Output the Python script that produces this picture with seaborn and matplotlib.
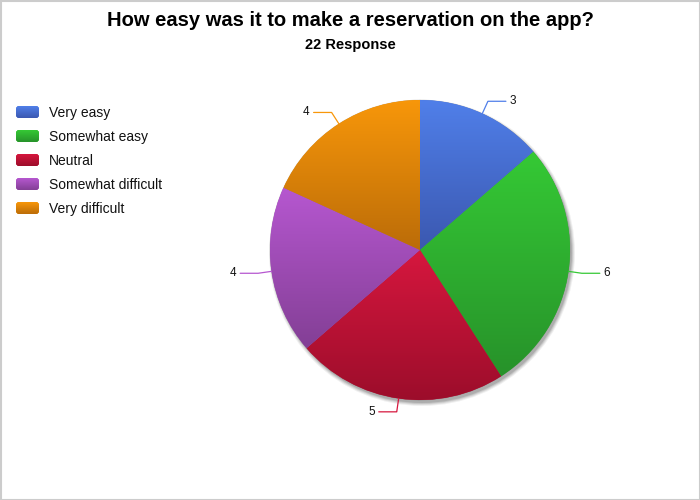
"""Pie chart of reservation difficulty survey responses."""

import numpy as np
import matplotlib
matplotlib.use("Agg")
import matplotlib.pyplot as plt
import seaborn as sns
from matplotlib.colors import LinearSegmentedColormap
from matplotlib.patches import Circle, FancyBboxPatch, Rectangle

CATEGORIES = ["Very easy", "Somewhat easy", "Neutral", "Somewhat difficult", "Very difficult"]
COUNTS = [3, 6, 5, 4, 4]
TOP_COLORS = ["#507fe9", "#35c935", "#d6173e", "#b657d0", "#f8970a"]
BOTTOM_COLORS = ["#3b58b0", "#27922a", "#9c0d2b", "#833f95", "#bb6c08"]
TITLE = "How easy was it to make a reservation on the app?"
SUBTITLE = f"{sum(COUNTS)} Response"

CENTER = (420, 250)
RADIUS = 150


def _gradient_fill(ax, patch, top, bottom, extent):
    """Fill a patch with a vertical gradient clipped to its outline."""
    cmap = LinearSegmentedColormap.from_list("g", [bottom, top])
    grad = np.linspace(0, 1, 256).reshape(-1, 1)
    im = ax.imshow(grad, cmap=cmap, origin="lower", extent=extent, aspect="auto",
                   interpolation="bicubic", zorder=patch.get_zorder() + 0.1)
    im.set_clip_path(patch)


def main() -> None:
    sns.set_theme(style="white")
    plt.rcParams["font.family"] = ["Liberation Sans", "DejaVu Sans"]
    plt.rcParams["text.color"] = "black"

    fig = plt.figure(figsize=(7, 5), dpi=100)
    ax = fig.add_axes([0, 0, 1, 1])

    # Soft drop shadow under the pie.
    for k, a in enumerate([0.06, 0.08, 0.1, 0.12]):
        ax.add_patch(Circle((CENTER[0] + 2, CENTER[1] - 3), RADIUS + 3 - k, color="black",
                            alpha=a, lw=0, zorder=1))

    wedges, _ = ax.pie(COUNTS, colors=TOP_COLORS, startangle=90, counterclock=False,
                       center=CENTER, radius=RADIUS, frame=True,
                       wedgeprops=dict(linewidth=0.6, edgecolor=(0, 0, 0, 0.15), zorder=2))

    for wedge, top, bottom in zip(wedges, TOP_COLORS, BOTTOM_COLORS):
        ext = wedge.get_path().get_extents()
        _gradient_fill(ax, wedge, top, bottom, (ext.x0, ext.x1, ext.y0, ext.y1))

        # Leader line with the count.
        mid = np.deg2rad((wedge.theta1 + wedge.theta2) / 2)
        cx, cy = CENTER
        p0 = (cx + RADIUS * np.cos(mid), cy + RADIUS * np.sin(mid))
        p1 = (cx + RADIUS * 1.09 * np.cos(mid), cy + RADIUS * 1.09 * np.sin(mid))
        side = 1 if np.cos(mid) > 0 else -1
        p2 = (p1[0] + side * 18, p1[1])
        ax.plot([p0[0], p1[0], p2[0]], [p0[1], p1[1], p2[1]], color=top, lw=0.9, zorder=4)

    for wedge, count in zip(wedges, COUNTS):
        mid = np.deg2rad((wedge.theta1 + wedge.theta2) / 2)
        side = 1 if np.cos(mid) > 0 else -1
        x = CENTER[0] + RADIUS * 1.09 * np.cos(mid) + side * 22
        y = CENTER[1] + RADIUS * 1.09 * np.sin(mid)
        ax.text(x, y, str(count), ha="left" if side > 0 else "right", va="center",
                fontsize=8.5, color="#111111", zorder=5)

    # Legend with rounded gradient swatches.
    for i, (label, top, bottom) in enumerate(zip(CATEGORIES, TOP_COLORS, BOTTOM_COLORS)):
        yc = 500 - (112 + 24 * i)
        box = FancyBboxPatch((16, yc - 6), 23, 12, boxstyle="round,pad=0,rounding_size=3",
                             lw=0, facecolor=top, zorder=3)
        ax.add_patch(box)
        _gradient_fill(ax, box, top, bottom, (16, 39, yc - 6, yc + 6))
        ax.text(49, yc - 1, label, ha="left", va="center", fontsize=10, color="#111111")

    ax.text(350, 479, TITLE, ha="center", va="center", fontsize=14.5, fontweight="bold")
    ax.text(350, 455, SUBTITLE, ha="center", va="center", fontsize=10.5, fontweight="bold")

    ax.add_patch(Rectangle((0.5, 0.5), 699, 499, fill=False, edgecolor="#cccccc", lw=1.5, zorder=6))

    ax.set_xlim(0, 700)
    ax.set_ylim(0, 500)
    ax.set_aspect("equal")
    ax.axis("off")
    fig.savefig("out.png", dpi=100, facecolor="white")


if __name__ == "__main__":
    main()
